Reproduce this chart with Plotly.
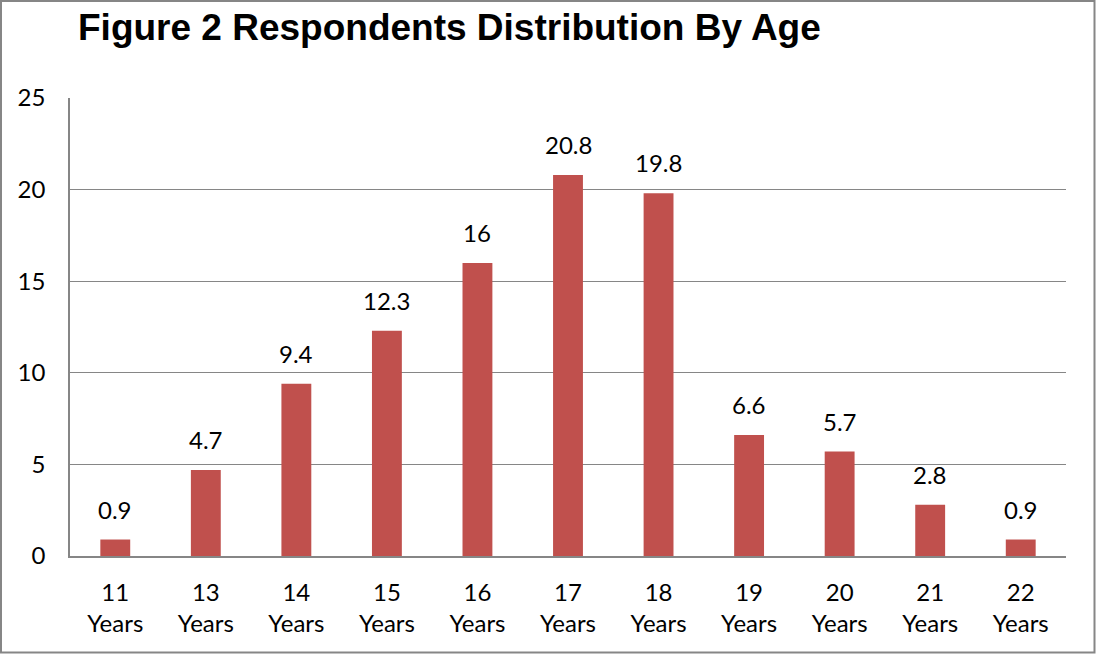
import plotly.graph_objects as go

categories = ["11<br>Years", "13<br>Years", "14<br>Years", "15<br>Years", "16<br>Years",
              "17<br>Years", "18<br>Years", "19<br>Years", "20<br>Years", "21<br>Years", "22<br>Years"]
values = [0.9, 4.7, 9.4, 12.3, 16, 20.8, 19.8, 6.6, 5.7, 2.8, 0.9]
value_labels = ["0.9", "4.7", "9.4", "12.3", "16", "20.8", "19.8", "6.6", "5.7", "2.8", "0.9"]
y_ticks = [0, 5, 10, 15, 20, 25]

W, H = 1096, 654
ml, mr, mt, mb = 70, 30, 98, 98
pw, ph = W - ml - mr, H - mt - mb

fig = go.Figure()
fig.add_trace(go.Bar(x=categories, y=values, marker=dict(color="#C0504D", line=dict(width=0)),
                     width=0.33))

for c, v, t in zip(categories, values, value_labels):
    fig.add_annotation(x=c, y=v, text=t, showarrow=False, yanchor="bottom", yshift=14,
                       font=dict(family="Lato", size=24, color="black"))

fig.add_annotation(xref="paper", yref="paper", x=(76 - ml) / pw, y=1 + (mt - 28) / ph,
                   xanchor="left", yanchor="middle", showarrow=False,
                   text="<b>Figure 2 Respondents Distribution By Age</b>",
                   font=dict(family="Liberation Sans, Arial", size=37, color="black"))

# outer border
fig.add_shape(type="rect", xref="paper", yref="paper",
              x0=(1 - ml) / pw, x1=(W - 1.5 - ml) / pw,
              y0=-(mb - 1.5) / ph, y1=1 + (mt - 1) / ph,
              line=dict(color="#868686", width=2), fillcolor="rgba(0,0,0,0)")

fig.update_layout(
    width=W, height=H,
    margin=dict(l=ml, r=mr, t=mt, b=mb, pad=0),
    paper_bgcolor="white", plot_bgcolor="white",
    showlegend=False,
    font=dict(family="Lato", size=24, color="black"),
    bargap=0.67,
)
fig.update_xaxes(showline=True, linecolor="#868686", linewidth=2, showgrid=False,
                 ticks="", tickfont=dict(family="Lato", size=24, color="black"),
                 ticklabelstandoff=14)
fig.update_yaxes(range=[0, 25], tickvals=y_ticks, showline=True, linecolor="#868686", linewidth=1.5,
                 showgrid=True, gridcolor="#868686", gridwidth=1, zeroline=False,
                 ticks="", tickfont=dict(family="Lato", size=24, color="black"),
                 ticklabelstandoff=18)

fig.write_html("out.html")
